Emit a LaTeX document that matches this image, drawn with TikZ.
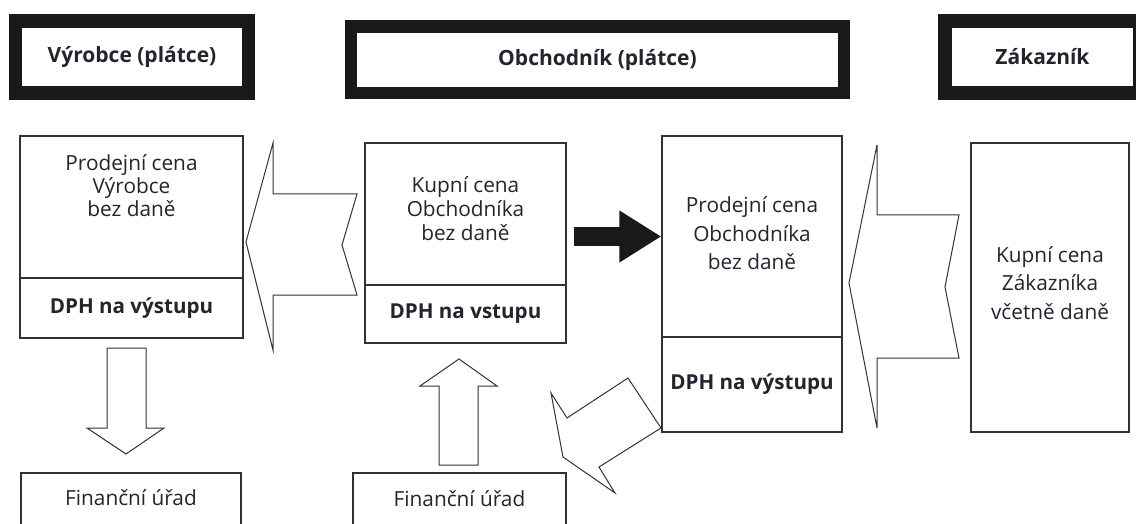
\documentclass[tikz,border=0pt]{standalone}
\usepackage{fontspec}
\setmainfont{Open Sans}
\usetikzlibrary{arrows.meta}

\newlength{\du}
\setlength{\du}{1pt}

\definecolor{linecolor}{rgb}{0.200000, 0.200000, 0.200000}
\definecolor{textcolor}{rgb}{0.140000, 0.140000, 0.180000}
\definecolor{headcolor}{rgb}{0.100000, 0.100000, 0.100000}

\tikzset{
  headbox/.style={draw=headcolor, fill=white, inner sep=0pt, text=textcolor,
    font=\bfseries\fontsize{21}{25}\selectfont},
  pricebox/.style={draw=linecolor, line width=1.3\du, fill=white, inner sep=0pt},
  pricetext/.style={align=center, inner sep=0pt, text=textcolor,
    font=\fontsize{20.8}{23}\selectfont},
  dphtext/.style={inner sep=0pt, text=textcolor, font=\bfseries\fontsize{20.6}{24}\selectfont},
  hollowarrow/.style={draw=linecolor, line width=1\du, fill=white, line join=miter},
}

\begin{document}
\begin{tikzpicture}
\pgftransformxscale{1.000000}
\pgftransformyscale{-1.000000}
\useasboundingbox (0\du,0\du) rectangle (1136\du,524\du);
\clip (0\du,0\du) rectangle (1136\du,524\du);
% headers
\node[headbox, line width=13.5\du, minimum width=233\du, minimum height=72\du] (vyrHead) at (132\du,57\du) {Výrobce (plátce)};
\node[headbox, line width=12.5\du, minimum width=493\du, minimum height=66.5\du] (obHead) at (597.5\du,59.75\du) {Obchodník (plátce)};
\node[headbox, line width=13.5\du, minimum width=195\du, minimum height=72\du] (zakHead) at (1042.5\du,57\du) {Zákazník};
% hollow arrows
\draw[hollowarrow] (246\du,242\du)--(273\du,143\du)--(273\du,194\du)--(357\du,194\du)--(342\du,245\du)--(357\du,295\du)--(273\du,295\du)--(273\du,350\du)--cycle;
\draw[hollowarrow] (849\du,283\du)--(877\du,145\du)--(877\du,215\du)--(959\du,215\du)--(945\du,287\du)--(959\du,358\du)--(877\du,358\du)--(877\du,428\du)--cycle;
\draw[hollowarrow] (107\du,348\du)--(146\du,348\du)--(146\du,428\du)--(164\du,428\du)--(126\du,454\du)--(87\du,428\du)--(107\du,428\du)--cycle;
\draw[hollowarrow] (459\du,359\du)--(497\du,386\du)--(478\du,386\du)--(478\du,465\du)--(439\du,465\du)--(439\du,386\du)--(420\du,386\du)--cycle;
\draw[hollowarrow] (661\du,428\du)--(628\du,378\du)--(567\du,418\du)--(551\du,393\du)--(563\du,457\du)--(615\du,493\du)--(599\du,467\du)--cycle;
% Vyrobce
\node[pricebox, minimum width=223\du, minimum height=142\du] (vyrCena) at (131.5\du,207\du) {};
\node[pricebox, minimum width=223\du, minimum height=60\du] (vyrDPH) at (131.5\du,308\du) {};
\node[pricetext] (vyrCenaText) at (131.5\du,186\du) {Prodejní cena\\Výrobce\\bez daně};
\node[dphtext] (vyrDPHText) at (131.5\du,308\du) {DPH na výstupu};
% Obchodnik - nakup
\node[pricebox, minimum width=201\du, minimum height=142\du] (obKupCena) at (465.5\du,214\du) {};
\node[pricebox, minimum width=201\du, minimum height=58\du] (obKupDPH) at (465.5\du,314\du) {};
\node[pricetext, font=\fontsize{20.8}{24}\selectfont] (obKupText) at (465.5\du,209\du) {Kupní cena\\Obchodníka\\bez daně};
\node[dphtext] (obKupDPHText) at (465.5\du,314\du) {DPH na vstupu};
% Obchodnik - prodej
\node[pricebox, minimum width=180\du, minimum height=201\du] (obProdCena) at (752\du,236.5\du) {};
\node[pricebox, minimum width=180\du, minimum height=95\du] (obProdDPH) at (752\du,384.5\du) {};
\node[pricetext, font=\fontsize{20.8}{28.5}\selectfont] (obProdText) at (752\du,233.5\du) {Prodejní cena\\Obchodníka\\bez daně};
\node[dphtext] (obProdDPHText) at (752\du,384\du) {DPH na výstupu};
% Zakaznik
\node[pricebox, minimum width=158\du, minimum height=289\du] (zakCena) at (1050\du,287.5\du) {};
\node[pricetext, font=\fontsize{20.8}{28.5}\selectfont] (zakText) at (1050\du,283\du) {Kupní cena\\Zákazníka\\včetně daně};
% Financni urady
\node[pricebox, minimum width=220\du, minimum height=80\du] (fuVyr) at (131\du,513\du) {};
\node[pricetext] (fuVyrText) at (131\du,498\du) {Finanční úřad};
\node[pricebox, minimum width=213\du, minimum height=80\du] (fuOb) at (459.5\du,513\du) {};
\node[pricetext] (fuObText) at (459.5\du,499\du) {Finanční úřad};
% prodej zbozi
\draw[draw=headcolor, line width=19\du, -{Triangle[length=42pt,width=49pt]}, shorten <=7\du] (obKupCena.east |- obProdCena.west) -- (obProdCena.west);
\end{tikzpicture}
\end{document}
